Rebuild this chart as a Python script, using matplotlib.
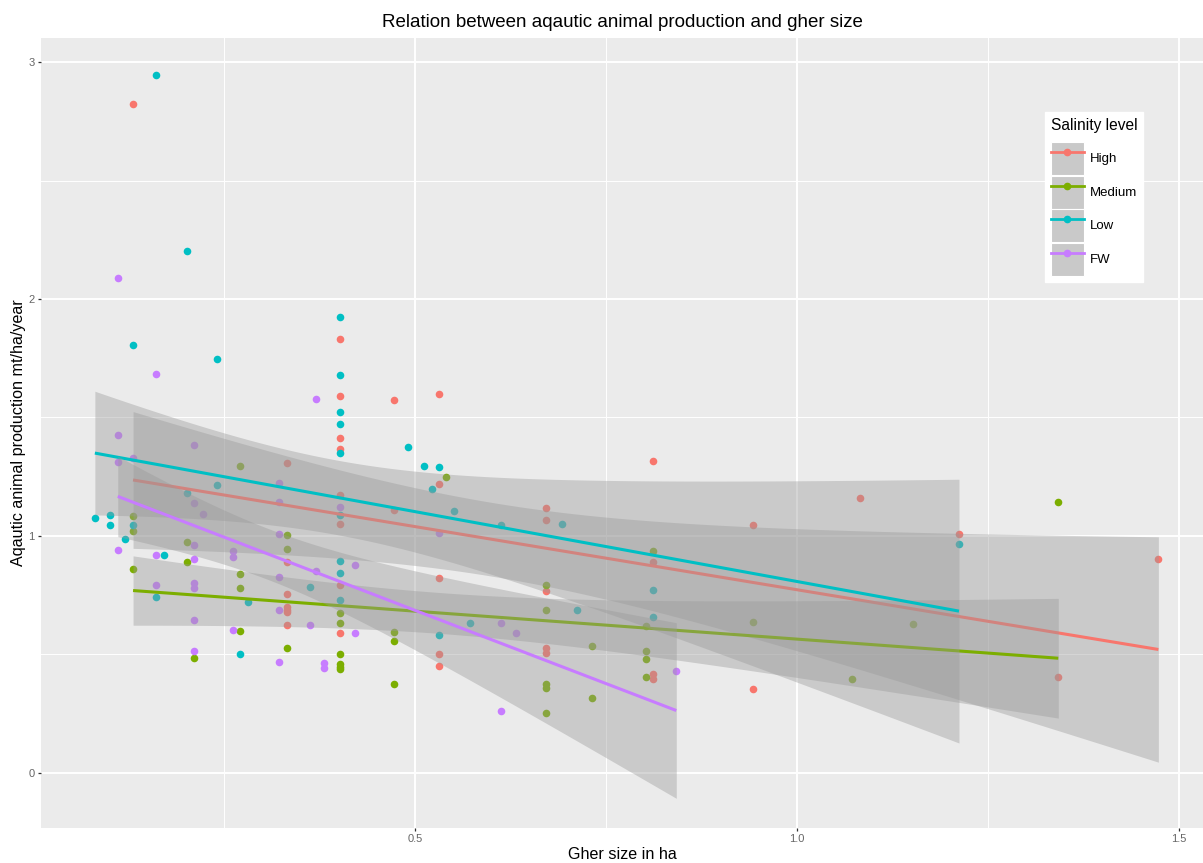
import numpy as np
import matplotlib
matplotlib.use('Agg')
from matplotlib import pyplot as plt
from matplotlib.lines import Line2D
from matplotlib.patches import Patch

plt.rcParams['font.family'] = ['Liberation Sans', 'DejaVu Sans']

# gher size (ha) and production (mt/ha/year) per salinity level
high_x = [0.131, 0.332, 0.332, 0.332, 0.332, 0.332, 0.332, 0.332, 0.402, 0.402,
          0.402, 0.402, 0.402, 0.402, 0.402, 0.402, 0.472, 0.472, 0.532, 0.532,
          0.532, 0.532, 0.532, 0.672, 0.672, 0.672, 0.672, 0.672, 0.812, 0.812,
          0.812, 0.812, 0.942, 0.942, 1.082, 1.212, 1.342, 1.473]
high_y = [2.825, 1.306, 0.888, 0.756, 0.701, 0.687, 0.677, 0.624, 1.832, 1.590,
          1.414, 1.369, 1.174, 1.051, 0.792, 0.589, 1.574, 1.111, 1.600, 1.221,
          0.822, 0.501, 0.452, 1.117, 1.066, 0.766, 0.528, 0.504, 1.318, 0.891,
          0.417, 0.394, 1.045, 0.352, 1.158, 1.008, 0.406, 0.903]

medium_x = [0.131, 0.131, 0.131, 0.201, 0.201, 0.211, 0.271, 0.271, 0.271, 0.271,
            0.332, 0.332, 0.332, 0.402, 0.402, 0.402, 0.402, 0.402, 0.402, 0.472,
            0.472, 0.472, 0.541, 0.672, 0.672, 0.672, 0.672, 0.672, 0.732, 0.732,
            0.802, 0.802, 0.802, 0.802, 0.812, 0.942, 1.072, 1.152, 1.342]
medium_y = [1.082, 1.020, 0.859, 0.975, 0.891, 0.486, 1.296, 0.841, 0.779, 0.599,
            1.003, 0.943, 0.527, 0.675, 0.634, 0.501, 0.459, 0.448, 0.436, 0.596,
            0.555, 0.375, 1.249, 0.793, 0.687, 0.376, 0.358, 0.251, 0.534, 0.316,
            0.621, 0.514, 0.480, 0.403, 0.937, 0.636, 0.397, 0.626, 1.142]

low_x = [0.081, 0.101, 0.101, 0.121, 0.131, 0.131, 0.161, 0.171, 0.161, 0.201,
         0.201, 0.241, 0.241, 0.281, 0.271, 0.362, 0.402, 0.402, 0.402, 0.402,
         0.402, 0.402, 0.402, 0.402, 0.402, 0.491, 0.512, 0.532, 0.522, 0.551,
         0.532, 0.572, 0.612, 0.692, 0.712, 0.812, 0.812, 1.212]
low_y = [1.074, 1.087, 1.046, 0.987, 1.804, 1.044, 2.945, 0.920, 0.741, 2.202,
         1.182, 1.749, 1.214, 0.722, 0.500, 0.784, 1.925, 1.680, 1.522, 1.473,
         1.348, 1.089, 0.896, 0.844, 0.731, 1.376, 1.296, 1.292, 1.196, 1.107,
         0.583, 0.632, 1.046, 1.052, 0.689, 0.770, 0.659, 0.967]

fw_x = [0.111, 0.111, 0.111, 0.111, 0.131, 0.161, 0.161, 0.161, 0.211, 0.211,
        0.211, 0.211, 0.211, 0.211, 0.211, 0.211, 0.222, 0.262, 0.262, 0.262,
        0.322, 0.322, 0.322, 0.322, 0.322, 0.322, 0.371, 0.371, 0.362, 0.381,
        0.381, 0.402, 0.422, 0.422, 0.532, 0.612, 0.632, 0.612, 0.842]
fw_y = [2.090, 1.425, 1.311, 0.941, 1.331, 1.683, 0.920, 0.791, 1.384, 1.139,
        0.963, 0.901, 0.800, 0.782, 0.645, 0.515, 1.092, 0.935, 0.911, 0.603,
        1.224, 1.145, 1.006, 0.825, 0.686, 0.469, 1.579, 0.852, 0.622, 0.463,
        0.442, 1.121, 0.879, 0.589, 1.011, 0.634, 0.590, 0.259, 0.428]

levels = ['High', 'Medium', 'Low', 'FW']
colors = ['#F8766D', '#7CAE00', '#00BFC4', '#C77CFF']
groups = [(high_x, high_y), (medium_x, medium_y), (low_x, low_y), (fw_x, fw_y)]

fig = plt.figure(figsize=(12.03, 8.63), dpi=100)
ax = fig.add_axes([41 / 1203, 1 - 827.7 / 863, 1 - 41 / 1203, (827.7 - 38.3) / 863])
ax.set_facecolor('#EBEBEB')
for s in ax.spines.values():
    s.set_visible(False)

# points first, smoothers drawn over them like geom_smooth does
for (gx, gy), c in zip(groups, colors):
    ax.scatter(gx, gy, s=30, color=c, linewidths=0, zorder=3)

# linear fit with 95% band for every level, ribbon then line
z = 4
for (gx, gy), c in zip(groups, colors):
    gx = np.array(gx)
    gy = np.array(gy)
    n = len(gx)
    slope, icpt = np.polyfit(gx, gy, 1)
    resid = gy - (icpt + slope * gx)
    sd = np.sqrt(np.sum(resid ** 2) / (n - 2))
    sxx = np.sum((gx - gx.mean()) ** 2)
    xs = np.linspace(gx.min(), gx.max(), 80)
    fit = icpt + slope * xs
    se = sd * np.sqrt(1 / n + (xs - gx.mean()) ** 2 / sxx)
    ax.fill_between(xs, fit - 2.03 * se, fit + 2.03 * se, color='#999999', alpha=0.4,
                    linewidth=0, zorder=z)
    ax.plot(xs, fit, color=c, lw=2.2, zorder=z + 1, solid_capstyle='butt')
    z += 2

ax.set_xlim(0.0105, 1.5314)
ax.set_ylim(-0.232, 3.101)
ax.set_xticks([0.5, 1.0, 1.5])
ax.set_xticklabels(['0.5', '1.0', '1.5'])
ax.set_yticks([0, 1, 2, 3])
ax.set_yticklabels(['0', '1', '2', '3'])
ax.set_xticks([0.25, 0.75, 1.25], minor=True)
ax.set_yticks([0.5, 1.5, 2.5], minor=True)
ax.grid(which='major', color='white', lw=1.4)
ax.grid(which='minor', color='white', lw=0.7)
ax.set_axisbelow(True)
ax.tick_params(which='major', length=2.5, width=0.9, color='#333333', labelcolor='#666666',
               labelsize=8, pad=2)
ax.tick_params(which='minor', length=0)

ax.set_title('Relation between aqautic animal production and gher size', fontsize=13.5,
             color='black', pad=8)
ax.set_xlabel('Gher size in ha', fontsize=11.6, labelpad=2)
ax.set_ylabel('Aqautic animal production mt/ha/year', fontsize=11.6, labelpad=2)

handles = [(Patch(facecolor='#C9C9C9', edgecolor='white', linewidth=0.8),
            Line2D([], [], color=c, lw=2, marker='o', markersize=4.5)) for c in colors]
leg = ax.legend(handles, levels, title='Salinity level', loc='upper left',
                bbox_to_anchor=(0.864, 0.907), borderaxespad=0, fontsize=9.5,
                title_fontsize=11.2, handlelength=2.5, handleheight=3.45,
                labelspacing=0.05, handletextpad=0.45, borderpad=0.45,
                fancybox=False, framealpha=1, edgecolor='white', alignment='left')
leg._legend_box.sep = 7  # gap between title and keys
leg.set_zorder(20)

fig.savefig('out.png', dpi=100)
